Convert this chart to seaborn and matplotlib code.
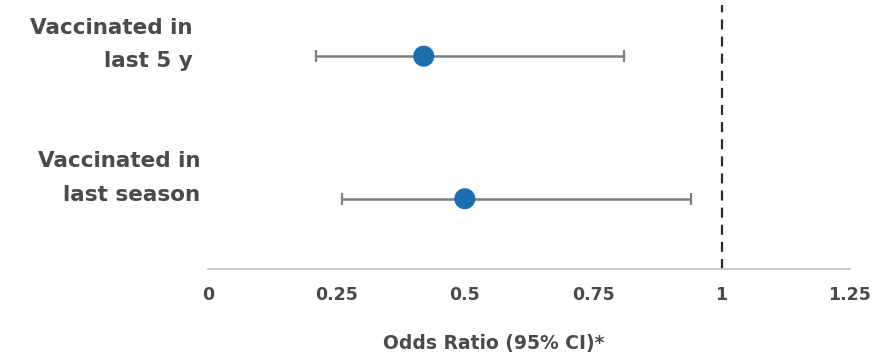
import numpy as np
import pandas as pd
import matplotlib
matplotlib.use("Agg")
import matplotlib.pyplot as plt
import matplotlib.transforms as mtransforms
import seaborn as sns

# Odds ratios with 95% confidence intervals
categories = ["Vaccinated in\nlast 5 y", "Vaccinated in\nlast season"]
odds_ratio = [0.42, 0.50]
ci_low = [0.21, 0.26]
ci_high = [0.81, 0.94]
x_ticks = [0, 0.25, 0.5, 0.75, 1, 1.25]
x_tick_labels = ["0", "0.25", "0.5", "0.75", "1", "1.25"]
x_label = "Odds Ratio (95% CI)*"
reference_line = 1

sns.set_style("white")
plt.rcParams["font.family"] = ["DejaVu Sans"]

text_color = "#4a4a4a"
point_color = "#1a6fae"
bar_color = "#7f7f7f"

df = pd.DataFrame({
    "category": categories,
    "pos": np.arange(len(categories)),
    "or": odds_ratio,
    "lo": ci_low,
    "hi": ci_high,
})

fig = plt.figure(figsize=(8.76, 3.58), dpi=100)
ax = fig.add_axes([208 / 876, 1 - 269 / 358, 642 / 876, 269 / 358])

# confidence intervals
ax.errorbar(df["or"], df["pos"],
            xerr=[df["or"] - df["lo"], df["hi"] - df["or"]],
            fmt="none", ecolor=bar_color, elinewidth=1.8,
            capsize=4, capthick=1.6, zorder=2)

# point estimates
sns.scatterplot(data=df, x="or", y="pos", ax=ax, s=230,
                color=point_color, edgecolor="none", zorder=3, legend=False)

# null-effect reference line
ax.axvline(reference_line, ymin=0, ymax=0.98, color="#2b2b2b",
           linewidth=1.6, linestyle=(0, (4.5, 3.2)), zorder=1)

ax.set_xlim(0, 1.25)
ax.set_ylim(1.493, -0.394)

ax.set_xticks(x_ticks)
ax.set_xticklabels(x_tick_labels, fontsize=12.5, fontweight="bold",
                   color=text_color)
ax.tick_params(axis="x", length=3.5, width=1.2, color="#c4c4c4", pad=9,
               direction="out")
ax.set_yticks([])
ax.set_ylabel("")
ax.set_xlabel(x_label, fontsize=13.5, fontweight="bold", color=text_color)
ax.xaxis.set_label_coords((494 - 208) / 642, -0.24)

for side in ["top", "right", "left"]:
    ax.spines[side].set_visible(False)
ax.spines["bottom"].set_color("#c4c4c4")
ax.spines["bottom"].set_linewidth(1.3)

# row labels to the left of the axis
label_offsets = [(-15, -11), (-8, -2)]
for pos, label, (dx, dy) in zip(df["pos"], categories, label_offsets):
    trans = ax.get_yaxis_transform() + mtransforms.ScaledTranslation(
        dx / 100, dy / 100, fig.dpi_scale_trans)
    ax.text(0, pos, label, transform=trans, ha="right", va="baseline",
            multialignment="right", fontsize=15.5, fontweight="bold",
            color=text_color, linespacing=1.85)

fig.savefig("out.png", dpi=100)
